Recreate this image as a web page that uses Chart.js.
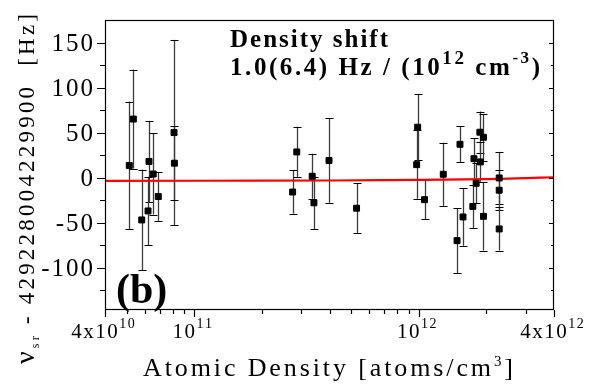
<!DOCTYPE html>
<html>
<head>
<meta charset="utf-8">
<script src="https://cdn.jsdelivr.net/npm/chart.js@4.4.1/dist/chart.umd.min.js"></script>
<style>
  html, body { margin: 0; padding: 0; background: #fff; }
  #wrap { width: 591px; height: 388px; }
</style>
</head>
<body>
<div id="wrap"><canvas id="c" width="591" height="388"></canvas></div>
<script>
// Measured clock frequency offsets against atomic density
const density = [5.13e10, 5.35e10, 5.83e10, 6.28e10, 6.22e10, 6.56e10, 6.91e10, 8.12e10, 8.15e10,
                 2.74e11, 2.86e11, 3.35e11, 3.41e11, 3.98e11, 5.28e11,
                 9.88e11, 9.78e11, 1.06e12, 1.285e12, 1.48e12, 1.525e12, 1.573e12,
                 1.76e12, 1.74e12, 1.80e12, 1.87e12, 1.94e12, 1.88e12, 1.94e12,
                 2.28e12, 2.28e12, 2.28e12];
const shift = [13.5, 65, -47, 18, -37, 4, -21, 50, 16,
               -16, 28.5, 1.5, -28, 19, -34,
               56, 14.4, -24.5, 3.7, -70, 37, -43.7,
               21, -32, -6.3, 50.4, 44.8, 17.4, -43,
               -0.4, -14, -57];
const shiftErr = [71, 55, 56, 45, 38, 45, 27, 103, 41,
                  24, 28, 25, 29, 47, 28,
                  37, 38, 22, 35, 36, 20, 32,
                  23, 24, 22, 23, 26, 22, 38,
                  29, 22, 24];

// Linear density-shift fit: offset + slope * n / 1e12
const fitSlope = 1.0;     // Hz per 1e12 cm^-3
const fitOffset = -3.6;   // Hz
const fitDensity = [4e10, 1e11, 2e11, 4e11, 7e11, 1e12, 1.3e12, 1.6e12, 2e12, 2.5e12, 3e12, 3.5e12, 4e12];

// Axis ticks
const yTicks = [-100, -50, 0, 50, 100, 150];
const yMinorTicks = [-125, -75, -25, 25, 75, 125];
const xTicks = [4e10, 1e11, 1e12, 4e12];
const xTickMantissa = ['4x10', '10', '10', '4x10'];
const xTickExponent = ['10', '11', '12', '12'];
const xMinorTicks = [5e10, 6e10, 7e10, 8e10, 9e10, 2e11, 3e11, 4e11, 5e11, 6e11, 7e11, 8e11, 9e11, 2e12, 3e12];

const FONT = '"Liberation Serif", "Times New Roman", serif';

function fontOf(s) { return (s.bold ? 'bold ' : '') + s.size + 'px ' + FONT; }

// Draws a run of text segments character by character with letter spacing.
function drawRun(ctx, segs, x, y, opts) {
  const chars = [];
  segs.forEach(s => { for (const ch of s.t) chars.push({ ch, s }); });
  let nat = 0;
  chars.forEach(c => { ctx.font = fontOf(c.s); nat += ctx.measureText(c.ch).width; });
  let sp = opts.spacing || 0;
  if (opts.fit) sp = (opts.fit - nat) / (chars.length - 1);
  const total = nat + sp * (chars.length - 1);
  let cx = opts.align === 'center' ? x - total / 2 : opts.align === 'right' ? x - total : x;
  ctx.textAlign = 'left';
  ctx.textBaseline = 'alphabetic';
  chars.forEach(c => {
    ctx.font = fontOf(c.s);
    ctx.fillText(c.ch, cx, y + (c.s.dy || 0));
    cx += ctx.measureText(c.ch).width + sp;
  });
}

const decor = {
  id: 'decor',
  beforeDatasetsDraw(chart) {
    const { ctx, scales: { x, y } } = chart;
    ctx.save();
    for (let i = 0; i < density.length; i++) {
      const px = Math.round(x.getPixelForValue(density[i])) + 0.5;
      const yTop = y.getPixelForValue(shift[i] + shiftErr[i]);
      const yBot = y.getPixelForValue(shift[i] - shiftErr[i]);
      ctx.strokeStyle = '#3c3c3c';
      ctx.lineWidth = 1.3;
      ctx.beginPath(); ctx.moveTo(px, yTop); ctx.lineTo(px, yBot); ctx.stroke();
      ctx.strokeStyle = '#000';
      ctx.lineWidth = 1.2;
      ctx.beginPath();
      ctx.moveTo(px - 4, Math.round(yTop) + 0.5); ctx.lineTo(px + 4, Math.round(yTop) + 0.5);
      ctx.moveTo(px - 4, Math.round(yBot) + 0.5); ctx.lineTo(px + 4, Math.round(yBot) + 0.5);
      ctx.stroke();
    }
    ctx.restore();
  },
  afterDraw(chart) {
    const { ctx, chartArea: a, scales: { x, y } } = chart;
    ctx.save();
    ctx.fillStyle = '#000';
    ctx.strokeStyle = '#000';
    ctx.lineWidth = 1.2;
    // frame
    ctx.strokeRect(a.left + 0.5, a.top + 0.5, a.right - a.left - 1, a.bottom - a.top - 1);
    // y ticks (outside on the left, inside on the right)
    ctx.beginPath();
    yTicks.forEach(v => {
      const py = Math.round(y.getPixelForValue(v)) + 0.5;
      ctx.moveTo(a.left, py); ctx.lineTo(a.left - 8, py);
      ctx.moveTo(a.right, py); ctx.lineTo(a.right - 5, py);
    });
    yMinorTicks.forEach(v => {
      const py = Math.round(y.getPixelForValue(v)) + 0.5;
      ctx.moveTo(a.left, py); ctx.lineTo(a.left - 5, py);
      ctx.moveTo(a.right, py); ctx.lineTo(a.right - 3, py);
    });
    // x ticks (outside at the bottom)
    xTicks.forEach(v => {
      const px = Math.round(x.getPixelForValue(v)) + 0.5;
      ctx.moveTo(px, a.bottom); ctx.lineTo(px, a.bottom + 7);
    });
    xMinorTicks.forEach(v => {
      const px = Math.round(x.getPixelForValue(v)) + 0.5;
      ctx.moveTo(px, a.bottom); ctx.lineTo(px, a.bottom + 4);
    });
    ctx.stroke();

    // y tick labels
    yTicks.forEach(v => {
      const py = y.getPixelForValue(v);
      drawRun(ctx, [{ t: String(v), size: 25 }], a.left - 12, py + 8, { align: 'right', spacing: 2 });
    });
    // x tick labels with exponents
    xTicks.forEach((v, i) => {
      const px = x.getPixelForValue(v);
      drawRun(ctx, [
        { t: xTickMantissa[i], size: 21 },
        { t: xTickExponent[i], size: 14, dy: -10 }
      ], px - 2, a.bottom + 28, { align: 'center', spacing: 1.5 });
    });

    // axis titles
    drawRun(ctx, [
      { t: 'Atomic Density [atoms/cm', size: 26 },
      { t: '3', size: 15, dy: -10 },
      { t: ']', size: 26 }
    ], 143, 376, { fit: 370 });

    ctx.save();
    ctx.translate(34, 364);
    ctx.rotate(-Math.PI / 2);
    drawRun(ctx, [
      { t: 'ν', size: 28 },
      { t: 'sr', size: 12, dy: 5 },
      { t: ' - 429228004229900  [Hz]', size: 23 }
    ], 0, 0, { fit: 350 });
    ctx.restore();

    // fit annotation
    drawRun(ctx, [{ t: 'Density shift', size: 25, bold: true }], 230, 47, { fit: 158 });
    drawRun(ctx, [
      { t: '1.0(6.4) Hz / (10', size: 25, bold: true },
      { t: '12', size: 19, bold: true, dy: -11 },
      { t: ' cm', size: 25, bold: true },
      { t: '-3', size: 17, bold: true, dy: -12 },
      { t: ')', size: 25, bold: true }
    ], 230, 75, { fit: 310 });

    // panel label
    drawRun(ctx, [{ t: '(b)', size: 42, bold: true }], 116, 303, { spacing: 0 });
    ctx.restore();
  }
};

new Chart(document.getElementById('c'), {
  type: 'scatter',
  data: {
    datasets: [
      {
        type: 'line',
        data: fitDensity.map(d => ({ x: d, y: fitOffset + fitSlope * d / 1e12 })),
        borderColor: '#ff0000',
        borderWidth: 2.2,
        pointRadius: 0,
        fill: false,
        tension: 0,
        order: 2
      },
      {
        data: density.map((d, i) => ({ x: d, y: shift[i] })),
        pointStyle: 'rect',
        pointRadius: 4.2,
        backgroundColor: '#000',
        borderColor: '#000',
        borderWidth: 1,
        order: 1
      }
    ]
  },
  options: {
    responsive: false,
    animation: false,
    events: [],
    layout: { padding: { left: 105, right: 37, top: 20, bottom: 78 } },
    plugins: { legend: { display: false }, tooltip: { enabled: false } },
    scales: {
      x: { type: 'logarithmic', min: 4e10, max: 4e12, display: false },
      y: { type: 'linear', min: -147, max: 175, display: false }
    }
  },
  plugins: [decor]
});
</script>
</body>
</html>
